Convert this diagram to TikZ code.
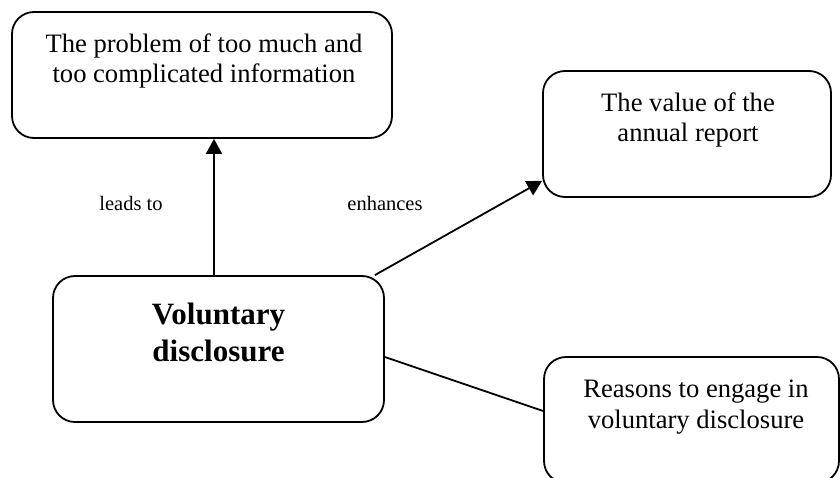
\documentclass[tikz,border=0pt]{standalone}
\usepackage{fontspec}
\setmainfont{Liberation Serif}
\usetikzlibrary{arrows.meta}

\tikzset{
  boxshape/.style={draw, line width=1.8pt, rounded corners=22pt, inner sep=0pt},
  boxtext/.style={align=center, inner sep=0pt, font=\fontsize{26.6}{30.5}\selectfont},
  boldtext/.style={align=center, inner sep=0pt, font=\fontsize{31}{37}\selectfont\bfseries},
  linklabel/.style={inner sep=0pt, font=\fontsize{20.5}{24}\selectfont},
  link/.style={line width=1.8pt},
  arrowlink/.style={link, -{Triangle[length=15pt,width=16pt]}}
}

\begin{document}
\begin{tikzpicture}[x=1pt,y=-1pt]
  \useasboundingbox (0,0) rectangle (840,478);
  \clip (0,0) rectangle (840,478);

  % boxes
  \node[boxshape, minimum width=380pt, minimum height=126pt] (problem) at (202,75) {};
  \node[boxshape, minimum width=288pt, minimum height=126pt] (value) at (687,134) {};
  \node[boxshape, minimum width=331pt, minimum height=146pt] (vd) at (218.5,349) {};
  \node[boxshape, minimum width=295pt, minimum height=126pt] (reasons) at (691.5,420) {};

  % box texts
  \node[boxtext] (problemtxt) at (204,61) {The problem of too much and\\too complicated information};
  \node[boxtext] (valuetxt) at (688,120) {The value of the\\annual report};
  \node[boldtext] (vdtxt) at (218.5,332) {Voluntary\\disclosure};
  \node[boxtext] (reasonstxt) at (696,407) {Reasons to engage in\\voluntary disclosure};

  % connectors
  \draw[arrowlink] ([xshift=-4.5pt]vd.north) -- ([xshift=12pt]problem.south);
  \draw[arrowlink] ([xshift=-10pt]vd.north east) -- ([yshift=17pt]value.south west);
  \draw[link] ([yshift=-8pt]vd.east) -- ([yshift=9pt]reasons.west);

  % connector labels
  \node[linklabel] (leadsto) at (131,203) {leads to};
  \node[linklabel] (enhances) at (385,203) {enhances};
\end{tikzpicture}
\end{document}
